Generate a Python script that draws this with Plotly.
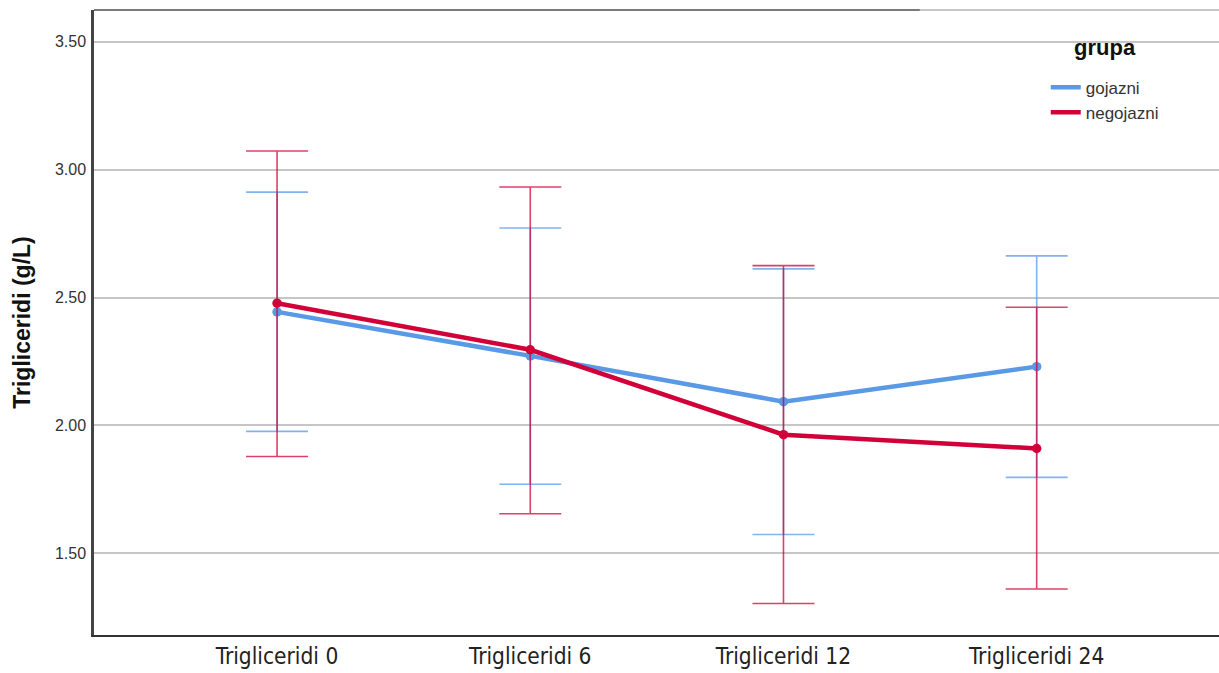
import plotly.graph_objects as go

# Mean triglycerides by time point, with 95% CI bounds, per group
categories = ["Trigliceridi 0", "Trigliceridi 6", "Trigliceridi 12", "Trigliceridi 24"]

gojazni_mean = [2.444, 2.272, 2.093, 2.230]
gojazni_upper = [2.912, 2.772, 2.612, 2.663]
gojazni_lower = [1.977, 1.770, 1.574, 1.797]

negojazni_mean = [2.478, 2.296, 1.964, 1.910]
negojazni_upper = [3.073, 2.932, 2.625, 2.462]
negojazni_lower = [1.879, 1.655, 1.304, 1.361]

y_ticks = [1.5, 2.0, 2.5, 3.0, 3.5]

BLUE = "#5A99E6"
RED = "#D20038"


def plus(upper, mean):
    return [u - m for u, m in zip(upper, mean)]


def minus(lower, mean):
    return [m - l for l, m in zip(lower, mean)]


fig = go.Figure()

series = [
    ("gojazni", gojazni_mean, gojazni_upper, gojazni_lower, BLUE, "rgba(90,153,230,0.75)"),
    ("negojazni", negojazni_mean, negojazni_upper, negojazni_lower, RED, "rgba(210,0,56,0.75)"),
]

for name, mean, upper, lower, color, err_color in series:
    fig.add_trace(go.Scatter(
        x=categories,
        y=mean,
        name=name,
        mode="lines+markers",
        line=dict(color=color, width=4.5),
        marker=dict(color=color, size=9.5),
        showlegend=False,
        error_y=dict(
            type="data",
            symmetric=False,
            array=plus(upper, mean),
            arrayminus=minus(lower, mean),
            color=err_color,
            thickness=1.6,
            width=31,
        ),
    ))

# line-only legend keys
for name, _, _, _, color, _ in series:
    fig.add_trace(go.Scatter(
        x=[None], y=[None], name=name, mode="lines",
        line=dict(color=color, width=4.5), showlegend=True,
    ))

fig.update_layout(
    width=1219,
    height=673,
    margin=dict(l=94, r=0, t=10, b=38),
    plot_bgcolor="white",
    paper_bgcolor="white",
    font=dict(family="Liberation Sans, Arial, sans-serif", color="#222"),
    showlegend=True,
    legend=dict(
        font=dict(size=17, color="#333"),
        x=0.846,
        xanchor="left",
        y=0.9045,
        yanchor="top",
        bgcolor="rgba(0,0,0,0)",
        tracegroupgap=0,
    ),
    xaxis=dict(
        type="category",
        range=[-0.723, 3.72],
        showgrid=False,
        showline=True,
        linecolor="#333",
        linewidth=2,
        ticks="",
        tickfont=dict(size=22.5, family="Liberation Sans Narrow, DejaVu Sans Condensed, Arial Narrow, sans-serif",
                      color="#222"),
        zeroline=False,
    ),
    yaxis=dict(
        range=[1.181, 3.624],
        tickvals=y_ticks,
        tickformat=".2f",
        showgrid=True,
        gridcolor="#C6C6C6",
        gridwidth=1.5,
        showline=True,
        linecolor="#444",
        linewidth=2.5,
        ticks="",
        ticklabelstandoff=2,
        tickfont=dict(size=16, color="#333"),
        zeroline=False,
        title=dict(text="<b>Trigliceridi (g/L)</b>", font=dict(size=23, color="#111"), standoff=18),
    ),
    annotations=[dict(
        text="<b>grupa</b>", xref="paper", yref="paper",
        x=(1105 - 94) / 1125, y=1 - (47 - 10) / 625,
        xanchor="center", yanchor="middle", showarrow=False,
        font=dict(size=22, color="#111"),
    )],
)

# frame along the top of the plot area
fig.add_shape(type="line", xref="paper", yref="paper", x0=0, x1=1, y0=1, y1=1,
              line=dict(color="#B4B4B4", width=1.5))
fig.add_shape(type="line", xref="paper", yref="paper", x0=0, x1=0.734, y0=1, y1=1,
              line=dict(color="#7A7A7A", width=2))

fig.write_html("out.html")
